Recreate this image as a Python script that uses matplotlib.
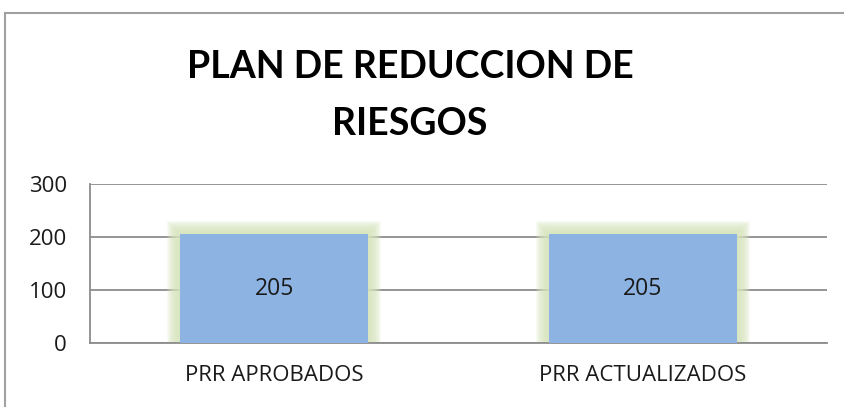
#!/usr/bin/env python3

import numpy as np
import matplotlib
matplotlib.use('Agg')
import matplotlib.pyplot as plt
from matplotlib.lines import Line2D

categories = ['PRR APROBADOS', 'PRR ACTUALIZADOS']
values = [205, 205]
yticks = [0, 100, 200, 300]
title_lines = ['PLAN DE REDUCCION DE', 'RIESGOS']


def main():
	plt.rcParams['font.family'] = ['Open Sans', 'DejaVu Sans']
	fig = plt.figure(figsize=(8.44, 4.07), dpi=100)
	ax = fig.add_axes([90/844, 1 - 343/407, (827 - 90)/844, (343 - 184)/407])

	x = np.arange(len(categories))
	width = 0.51
	ax.set_xlim(-0.5, len(categories) - 0.5)
	ax.set_ylim(0, 300)

	# soft green glow round the bars
	dx = 1.0 / 368
	dy = 300.0 / 159
	for k in range(13, 0, -1):
		ax.bar(x, np.array(values) + k * dy, width + 2 * k * dx, color='#d7e4bd',
			alpha=0.16, lw=0, zorder=2)
	bars = ax.bar(x, values, width, color='#8db3e2', lw=0, zorder=3)
	for b, v in zip(bars, values):
		ax.text(b.get_x() + b.get_width()/2, v/2, str(v), ha='center', va='center',
			fontsize=16.5, color='#1a1a1a', zorder=4)

	ax.set_yticks(yticks)
	ax.yaxis.grid(True, color='#8c8c8c', lw=1.3, zorder=1)
	ax.set_axisbelow(True)
	for s in ['top', 'right']:
		ax.spines[s].set_visible(False)
	for s in ['left', 'bottom']:
		ax.spines[s].set_color('#8c8c8c')
		ax.spines[s].set_linewidth(1.3)
	ax.tick_params(axis='both', length=0, labelsize=16, colors='#1a1a1a')
	ax.tick_params(axis='y', pad=16.5)
	ax.tick_params(axis='x', pad=16)
	ax.set_xticks(x, categories)

	# title, two lines placed separately
	for line, ypx in zip(title_lines, [64, 121]):
		fig.text(410/844, 1 - ypx/407, line, ha='center', va='center_baseline', fontsize=27,
			fontweight='bold', family=['Lato', 'DejaVu Sans'])

	# outer chart border (left and top visible)
	fig.add_artist(Line2D([5/844, 5/844], [0, 1 - 13/407], color='#a0a0a0', lw=1.5,
		transform=fig.transFigure))
	fig.add_artist(Line2D([5/844, 1], [1 - 13/407, 1 - 13/407], color='#a0a0a0', lw=1.5,
		transform=fig.transFigure))

	plt.savefig('out.png')


if __name__ == '__main__':
	main()
